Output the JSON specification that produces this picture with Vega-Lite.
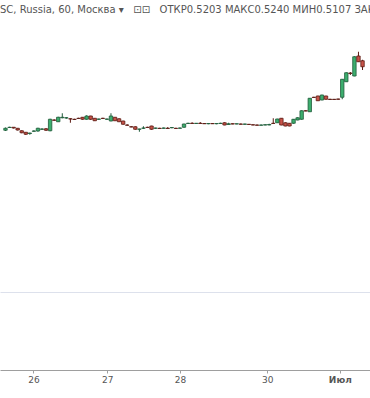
{
  "$schema": "https://vega.github.io/schema/vega-lite/v6.json",
  "width": 370,
  "height": 350,
  "autosize": {"type": "none"},
  "padding": {"top": 20, "left": 0, "right": 0, "bottom": 28},
  "background": "#ffffff",
  "config": {"view": {"stroke": null}},
  "title": {
    "text": "SC, Russia, 60, Москва ▾\u00a0\u00a0 ⊡⊡\u00a0\u00a0 ОТКР0.5203 МАКС0.5240 МИН0.5107 ЗАКР0.5179",
    "anchor": "start",
    "frame": "group",
    "font": "DejaVu Sans",
    "fontSize": 10,
    "fontWeight": "normal",
    "color": "#555555",
    "offset": 5
  },
  "data": {
    "values": [
      {"i": 0, "o": 0.4925, "h": 0.4936, "l": 0.4922, "c": 0.4933},
      {"i": 1, "o": 0.4936, "h": 0.4939, "l": 0.4934, "c": 0.4937},
      {"i": 2, "o": 0.4937, "h": 0.4938, "l": 0.4932, "c": 0.4934},
      {"i": 3, "o": 0.4933, "h": 0.4934, "l": 0.4924, "c": 0.4926},
      {"i": 4, "o": 0.4923, "h": 0.4925, "l": 0.4913, "c": 0.4915},
      {"i": 5, "o": 0.4917, "h": 0.4918, "l": 0.4906, "c": 0.4909},
      {"i": 6, "o": 0.4912, "h": 0.4915, "l": 0.4907, "c": 0.4914},
      {"i": 7, "o": 0.4921, "h": 0.4925, "l": 0.4919, "c": 0.4922},
      {"i": 8, "o": 0.4922, "h": 0.4935, "l": 0.4919, "c": 0.4933},
      {"i": 9, "o": 0.4929, "h": 0.4933, "l": 0.4926, "c": 0.4930},
      {"i": 10, "o": 0.4931, "h": 0.4934, "l": 0.4922, "c": 0.4925},
      {"i": 11, "o": 0.4923, "h": 0.4971, "l": 0.4921, "c": 0.4969},
      {"i": 12, "o": 0.4966, "h": 0.4969, "l": 0.4962, "c": 0.4965},
      {"i": 13, "o": 0.4959, "h": 0.4979, "l": 0.4958, "c": 0.4977},
      {"i": 14, "o": 0.4975, "h": 0.4993, "l": 0.4973, "c": 0.4977},
      {"i": 15, "o": 0.4974, "h": 0.4978, "l": 0.4971, "c": 0.4975},
      {"i": 16, "o": 0.4971, "h": 0.4973, "l": 0.4955, "c": 0.4970},
      {"i": 17, "o": 0.4969, "h": 0.4971, "l": 0.4966, "c": 0.4968},
      {"i": 18, "o": 0.4973, "h": 0.4975, "l": 0.4970, "c": 0.4972},
      {"i": 19, "o": 0.4977, "h": 0.4978, "l": 0.4967, "c": 0.4969},
      {"i": 20, "o": 0.4969, "h": 0.4985, "l": 0.4967, "c": 0.4982},
      {"i": 21, "o": 0.4982, "h": 0.4983, "l": 0.4966, "c": 0.4969},
      {"i": 22, "o": 0.4973, "h": 0.4974, "l": 0.4962, "c": 0.4963},
      {"i": 23, "o": 0.4969, "h": 0.4971, "l": 0.4966, "c": 0.4970},
      {"i": 24, "o": 0.4973, "h": 0.4975, "l": 0.4970, "c": 0.4972},
      {"i": 25, "o": 0.4969, "h": 0.4971, "l": 0.4966, "c": 0.4970},
      {"i": 26, "o": 0.4962, "h": 0.4993, "l": 0.4961, "c": 0.4982},
      {"i": 27, "o": 0.4977, "h": 0.4978, "l": 0.4962, "c": 0.4963},
      {"i": 28, "o": 0.4971, "h": 0.4973, "l": 0.4958, "c": 0.4959},
      {"i": 29, "o": 0.4962, "h": 0.4963, "l": 0.4947, "c": 0.4949},
      {"i": 30, "o": 0.4946, "h": 0.4949, "l": 0.4943, "c": 0.4945},
      {"i": 31, "o": 0.4939, "h": 0.4942, "l": 0.4937, "c": 0.4938},
      {"i": 32, "o": 0.4939, "h": 0.4941, "l": 0.4927, "c": 0.4929},
      {"i": 33, "o": 0.4929, "h": 0.4931, "l": 0.4919, "c": 0.4930},
      {"i": 34, "o": 0.4933, "h": 0.4941, "l": 0.4930, "c": 0.4934},
      {"i": 35, "o": 0.4937, "h": 0.4939, "l": 0.4934, "c": 0.4936},
      {"i": 36, "o": 0.4942, "h": 0.4943, "l": 0.4927, "c": 0.4929},
      {"i": 37, "o": 0.4933, "h": 0.4935, "l": 0.4930, "c": 0.4934},
      {"i": 38, "o": 0.4933, "h": 0.4935, "l": 0.4931, "c": 0.4932},
      {"i": 39, "o": 0.4933, "h": 0.4936, "l": 0.4931, "c": 0.4934},
      {"i": 40, "o": 0.4933, "h": 0.4938, "l": 0.4931, "c": 0.4932},
      {"i": 41, "o": 0.4935, "h": 0.4937, "l": 0.4933, "c": 0.4936},
      {"i": 42, "o": 0.4933, "h": 0.4935, "l": 0.4931, "c": 0.4932},
      {"i": 43, "o": 0.4933, "h": 0.4936, "l": 0.4931, "c": 0.4934},
      {"i": 44, "o": 0.4937, "h": 0.4951, "l": 0.4935, "c": 0.4950},
      {"i": 45, "o": 0.4952, "h": 0.4955, "l": 0.4951, "c": 0.4953},
      {"i": 46, "o": 0.4953, "h": 0.4957, "l": 0.4951, "c": 0.4952},
      {"i": 47, "o": 0.4952, "h": 0.4954, "l": 0.4950, "c": 0.4953},
      {"i": 48, "o": 0.4953, "h": 0.4958, "l": 0.4951, "c": 0.4952},
      {"i": 49, "o": 0.4952, "h": 0.4954, "l": 0.4950, "c": 0.4951},
      {"i": 50, "o": 0.4951, "h": 0.4953, "l": 0.4949, "c": 0.4952},
      {"i": 51, "o": 0.4952, "h": 0.4954, "l": 0.4950, "c": 0.4951},
      {"i": 52, "o": 0.4951, "h": 0.4953, "l": 0.4949, "c": 0.4952},
      {"i": 53, "o": 0.4952, "h": 0.4955, "l": 0.4951, "c": 0.4953},
      {"i": 54, "o": 0.4955, "h": 0.4957, "l": 0.4945, "c": 0.4946},
      {"i": 55, "o": 0.4948, "h": 0.4955, "l": 0.4947, "c": 0.4951},
      {"i": 56, "o": 0.4951, "h": 0.4953, "l": 0.4949, "c": 0.4950},
      {"i": 57, "o": 0.4950, "h": 0.4952, "l": 0.4949, "c": 0.4951},
      {"i": 58, "o": 0.4950, "h": 0.4952, "l": 0.4948, "c": 0.4949},
      {"i": 59, "o": 0.4949, "h": 0.4951, "l": 0.4947, "c": 0.4950},
      {"i": 60, "o": 0.4949, "h": 0.4950, "l": 0.4946, "c": 0.4948},
      {"i": 61, "o": 0.4947, "h": 0.4949, "l": 0.4945, "c": 0.4946},
      {"i": 62, "o": 0.4946, "h": 0.4948, "l": 0.4944, "c": 0.4945},
      {"i": 63, "o": 0.4945, "h": 0.4948, "l": 0.4944, "c": 0.4946},
      {"i": 64, "o": 0.4946, "h": 0.4949, "l": 0.4945, "c": 0.4947},
      {"i": 65, "o": 0.4946, "h": 0.4951, "l": 0.4945, "c": 0.4948},
      {"i": 66, "o": 0.4953, "h": 0.4973, "l": 0.4951, "c": 0.4952},
      {"i": 67, "o": 0.4955, "h": 0.4971, "l": 0.4954, "c": 0.4970},
      {"i": 68, "o": 0.4973, "h": 0.4974, "l": 0.4945, "c": 0.4946},
      {"i": 69, "o": 0.4955, "h": 0.4957, "l": 0.4941, "c": 0.4942},
      {"i": 70, "o": 0.4953, "h": 0.4954, "l": 0.4941, "c": 0.4942},
      {"i": 71, "o": 0.4953, "h": 0.4970, "l": 0.4951, "c": 0.4969},
      {"i": 72, "o": 0.4966, "h": 0.4977, "l": 0.4965, "c": 0.4975},
      {"i": 73, "o": 0.4969, "h": 0.5005, "l": 0.4967, "c": 0.5003},
      {"i": 74, "o": 0.5003, "h": 0.5006, "l": 0.5001, "c": 0.5002},
      {"i": 75, "o": 0.4999, "h": 0.5054, "l": 0.4998, "c": 0.5053},
      {"i": 76, "o": 0.5057, "h": 0.5059, "l": 0.5054, "c": 0.5056},
      {"i": 77, "o": 0.5062, "h": 0.5063, "l": 0.5042, "c": 0.5043},
      {"i": 78, "o": 0.5046, "h": 0.5067, "l": 0.5045, "c": 0.5066},
      {"i": 79, "o": 0.5062, "h": 0.5063, "l": 0.5047, "c": 0.5049},
      {"i": 80, "o": 0.5049, "h": 0.5051, "l": 0.5046, "c": 0.5048},
      {"i": 81, "o": 0.5049, "h": 0.5050, "l": 0.5046, "c": 0.5048},
      {"i": 82, "o": 0.5050, "h": 0.5051, "l": 0.5047, "c": 0.5049},
      {"i": 83, "o": 0.5057, "h": 0.5130, "l": 0.5049, "c": 0.5129},
      {"i": 84, "o": 0.5119, "h": 0.5157, "l": 0.5118, "c": 0.5155},
      {"i": 85, "o": 0.5154, "h": 0.5158, "l": 0.5146, "c": 0.5152},
      {"i": 86, "o": 0.5142, "h": 0.5221, "l": 0.5141, "c": 0.5219},
      {"i": 87, "o": 0.5222, "h": 0.5239, "l": 0.5198, "c": 0.5199},
      {"i": 88, "o": 0.5203, "h": 0.5207, "l": 0.5166, "c": 0.5179}
    ]
  },
  "encoding": {
    "x": {
      "field": "i",
      "type": "quantitative",
      "scale": {"domain": [-0.12, 88.61], "nice": false, "zero": false},
      "axis": {
        "title": null,
        "values": [6.9, 25.1, 43, 64.5, 82.4],
        "labelExpr": "datum.value < 10 ? '26' : datum.value < 30 ? '27' : datum.value < 50 ? '28' : datum.value < 70 ? '30' : 'Июл'",
        "labelFont": "DejaVu Sans",
        "labelFontSize": 9,
        "labelColor": "#555555",
        "labelFontWeight": {"condition": {"test": "datum.value > 80", "value": "bold"}, "value": "normal"},
        "labelPadding": 2,
        "domainColor": "#9e9e9e",
        "domainWidth": 1,
        "tickColor": "#9e9e9e",
        "tickSize": 3,
        "grid": false
      }
    },
    "y": {
      "type": "quantitative",
      "scale": {"domain": [0.3966, 0.5366], "nice": false, "zero": false},
      "axis": {
        "title": null,
        "values": [0.4278],
        "labels": false,
        "ticks": false,
        "domain": false,
        "grid": true,
        "gridColor": "#dde1ec",
        "gridWidth": 1
      }
    }
  },
  "layer": [
    {
      "mark": {"type": "rule", "strokeWidth": 1},
      "encoding": {
        "y": {"field": "l", "type": "quantitative"},
        "y2": {"field": "h"},
        "color": {
          "condition": {"test": "datum.o < datum.c", "value": "#1f5a3a"},
          "value": "#5b1a13"
        }
      }
    },
    {
      "mark": {"type": "bar", "size": 3.4, "strokeWidth": 0.8},
      "encoding": {
        "y": {"field": "o", "type": "quantitative"},
        "y2": {"field": "c"},
        "fill": {
          "condition": {"test": "datum.o < datum.c", "value": "#3cae6e"},
          "value": "#c9544a"
        },
        "stroke": {
          "condition": {"test": "datum.o < datum.c", "value": "#1f5a3a"},
          "value": "#5b1a13"
        }
      }
    }
  ]
}
